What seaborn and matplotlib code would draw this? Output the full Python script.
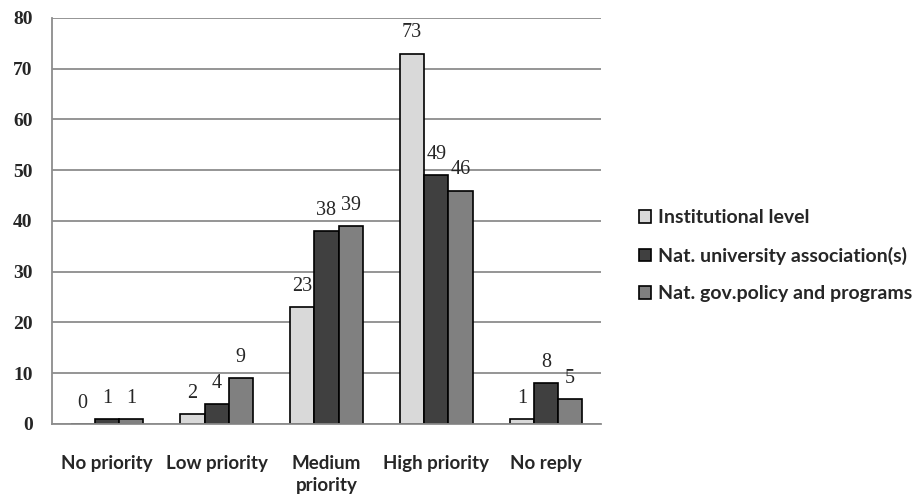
import matplotlib
matplotlib.use("Agg")
import matplotlib.pyplot as plt
import seaborn as sns
import pandas as pd

categories = ["No priority", "Low priority", "Medium\npriority", "High priority", "No reply"]
series = ["Institutional level", "Nat. university association(s)", "Nat. gov.policy and programs"]
institutional = [0, 2, 23, 73, 1]
university_assoc = [1, 4, 38, 49, 8]
gov_policy = [1, 9, 39, 46, 5]
y_ticks = [0, 10, 20, 30, 40, 50, 60, 70, 80]

colors = ["#d9d9d9", "#404040", "#808080"]

rows = []
for name, vals in zip(series, [institutional, university_assoc, gov_policy]):
    for cat, v in zip(categories, vals):
        rows.append({"category": cat, "series": name, "value": v})
df = pd.DataFrame(rows)

sns.set_theme(style="white")
label_font = ["Lato", "DejaVu Sans"]
num_font = ["Liberation Serif", "DejaVu Serif"]

fig = plt.figure(figsize=(9.14, 4.97), dpi=100)
ax = fig.add_axes([0.0569, 0.1469, 0.6006, 0.8169])

sns.barplot(data=df, x="category", y="value", hue="series", order=categories,
            hue_order=series, palette=colors, width=0.66, edgecolor="black",
            linewidth=1.2, saturation=1, ax=ax, legend=True)

ax.set_ylim(0, 80)
ax.set_yticks(y_ticks)
ax.yaxis.grid(True, color="#8c8c8c", linewidth=1.3)
ax.set_axisbelow(True)
for side in ["top", "right"]:
    ax.spines[side].set_visible(False)
for side in ["left", "bottom"]:
    ax.spines[side].set_color("#8c8c8c")
    ax.spines[side].set_linewidth(1.3)
ax.tick_params(axis="both", length=0)
ax.set_xlabel("")
ax.set_ylabel("")
for t in ax.get_yticklabels():
    t.set_fontfamily(num_font)
    t.set_fontsize(14)
    t.set_fontweight("bold")
ax.tick_params(axis="y", pad=14)
ax.tick_params(axis="x", pad=22)
for t in ax.get_xticklabels():
    t.set_fontfamily(label_font)
    t.set_fontsize(13.5)
    t.set_fontweight("bold")
    t.set_linespacing(1.4)

for container in ax.containers:
    ax.bar_label(container, labels=[f"{v:.0f}" for v in container.datavalues],
                 padding=8, fontsize=14.5, fontfamily=num_font)

handles, labels = ax.get_legend_handles_labels()
ax.legend(handles, labels, loc="center left", bbox_to_anchor=(1.038, 0.414),
          frameon=False, prop={"family": label_font, "size": 14, "weight": "bold"},
          handlelength=0.6, handleheight=0.6, handletextpad=0.35, labelspacing=1.05)

fig.savefig("out.png", dpi=100)
